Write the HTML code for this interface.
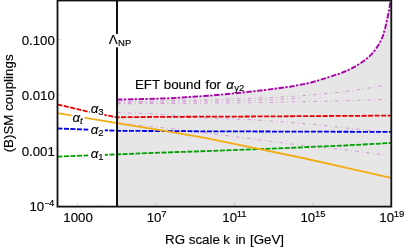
<!DOCTYPE html>
<html>
<head>
<meta charset="utf-8">
<style>
html,body{margin:0;padding:0;background:#fff;}
body{width:405px;height:249px;overflow:hidden;}
svg{display:block;position:absolute;left:0;top:0;}
text{font-family:"Liberation Sans",sans-serif;fill:#000;stroke:#000;stroke-width:0.15px;}
#txt{filter:grayscale(1);}
.t{font-size:13.33px;}
.s{font-size:9.5px;}
.i{font-style:italic;}
.k{font-size:13.25px;}
</style>
</head>
<body>
<svg width="405" height="249" viewBox="0 0 405 249">
<rect x="0" y="0" width="405" height="249" fill="#ffffff"/>

<!-- gray excluded region under EFT bound -->
<path id="fill" fill="#e6e6e6" stroke="none" d="M117,206.5 L117,99.6 L145,99 L172,98.2 L210,95.6 L240,92.8 L265,90 L290,86.7 L310,82.9 L325,78.4 L340,73.5 L347.4,70.6 L354.6,66.8 L359.9,63.6 L365,60 L369.4,56.4 L372.4,53.3 L375.5,49.5 L378.6,44.8 L381,40.3 L382.9,36.1 L385.3,27.4 L387.3,18.7 L389.1,10 L390.3,2.5 L390.7,0.5 L391.3,0.5 L391.3,206.5 Z"/>

<!-- thin light purple trajectories -->
<g fill="none" stroke="#bb33bb" stroke-opacity="0.7" stroke-width="0.6" stroke-dasharray="3.7 3.2 0.8 3.2">
<path d="M117,102.1 L165,100.8 L205,99.8 L240,98.7 L275,97.4 L300,95.9 L335,92.8 L360,89.5 L388,84.8"/>
<path d="M117,103 L165,102.2 L225,101 L275,99.6 L300,98.4"/>
<path d="M117,103.9 L165,103.5 L225,103 L275,102.3 L335,101 L388,99.3"/>
<path d="M117,112.4 L160,114.3 L205,117.9 L255,119.9 L305,123.6 L345,127.9 L388,132"/>
<path d="M117,123 L165,128 L205,132.8 L255,139.3 L295,144.5 L345,149.8 L388,155.2"/>
</g>

<!-- SM couplings -->
<g fill="none" stroke-width="1.8">
<path stroke="#e60000" stroke-dasharray="5 1.5" d="M57.5,104.4 L88,111.6 L117,117.3 L155,116.9 L250,116.5 L391,115.6"/>
<path stroke="#0000e6" stroke-dasharray="5 1.5" d="M57.5,128.5 L117,130.8 L200,131.3 L391,131.9"/>
<path stroke="#00a000" stroke-dasharray="5 1.5" d="M57.5,156.6 L117,154.4 L155,152.9 L255,149.3 L340,145.7 L391,143"/>
<path stroke="#f2ac12" d="M57.5,113.1 L117,123.1 L160,130.1 L205,137.8 L255,148.1 L305,158.5 L350,168.6 L391,177.9"/>
<!-- EFT bound -->
<path stroke="#aa00aa" stroke-width="1.9" stroke-dasharray="5.5 1.4 2.3 1.6" d="M117,99.6 L145,99 L172,98.2 L210,95.6 L240,92.8 L265,90 L290,86.7 L310,82.9 L325,78.4 L340,73.5 L347.4,70.6 L354.6,66.8 L359.9,63.6 L365,60 L369.4,56.4 L372.4,53.3 L375.5,49.5 L378.6,44.8 L381,40.3 L382.9,36.1 L385.3,27.4 L387.3,18.7 L389.1,10 L390.3,2.5 L390.7,0.5"/>
</g>

<!-- Lambda_NP vertical line -->
<line x1="117" y1="0" x2="117" y2="206.5" stroke="#111" stroke-width="2"/>

<!-- ticks (faint) -->
<g stroke="#000" stroke-width="1">
<line x1="97.2" y1="205.6" x2="97.2" y2="203.8" stroke-opacity="0.06"/>
<line x1="136.5" y1="205.6" x2="136.5" y2="203.8" stroke-opacity="0.06"/>
<line x1="175.7" y1="205.6" x2="175.7" y2="203.8" stroke-opacity="0.06"/>
<line x1="195.3" y1="205.6" x2="195.3" y2="203.8" stroke-opacity="0.06"/>
<line x1="214.9" y1="205.6" x2="214.9" y2="203.8" stroke-opacity="0.06"/>
<line x1="254.2" y1="205.6" x2="254.2" y2="203.8" stroke-opacity="0.06"/>
<line x1="273.8" y1="205.6" x2="273.8" y2="203.8" stroke-opacity="0.06"/>
<line x1="293.4" y1="205.6" x2="293.4" y2="203.8" stroke-opacity="0.06"/>
<line x1="332.7" y1="205.6" x2="332.7" y2="203.8" stroke-opacity="0.06"/>
<line x1="352.3" y1="205.6" x2="352.3" y2="203.8" stroke-opacity="0.06"/>
<line x1="371.9" y1="205.6" x2="371.9" y2="203.8" stroke-opacity="0.06"/>
<line x1="77.6" y1="205.6" x2="77.6" y2="202.7" stroke-opacity="0.13"/>
<line x1="156.1" y1="205.6" x2="156.1" y2="202.7" stroke-opacity="0.13"/>
<line x1="234.6" y1="205.6" x2="234.6" y2="202.7" stroke-opacity="0.13"/>
<line x1="313.0" y1="205.6" x2="313.0" y2="202.7" stroke-opacity="0.13"/>
<line x1="58.4" y1="39.5" x2="61.2" y2="39.5" stroke-opacity="0.13"/>
<line x1="58.4" y1="95.2" x2="61.2" y2="95.2" stroke-opacity="0.13"/>
<line x1="58.4" y1="150.8" x2="61.2" y2="150.8" stroke-opacity="0.13"/>
</g>

<!-- frame -->
<rect x="57.5" y="0.5" width="333.8" height="206.1" fill="none" stroke="#111" stroke-width="1.8"/>

<!-- white label backgrounds -->
<g fill="#ffffff">
<rect x="108" y="33.9" width="24" height="13.4"/>
<rect x="89.8" y="103" width="14.5" height="13"/>
<rect x="71.5" y="112" width="13" height="13"/>
<rect x="88.6" y="124" width="16.2" height="13"/>
<rect x="88.4" y="148.5" width="16.4" height="12.5"/>
</g>

<g id="txt">
<!-- labels -->
<text class="t" x="108.8" y="44.3">Λ<tspan class="s" dy="2.1" dx="0.4">NP</tspan></text>
<text class="t" x="134.9" y="89.2">EFT <tspan dx="0.2">bound</tspan> <tspan dx="1.0">for</tspan> <tspan class="i" dx="1.4">α</tspan><tspan class="s" dy="2.1" dx="0.35">y2</tspan></text>
<text class="t i" x="90.7" y="112.5">α<tspan class="s" style="font-style:normal" dy="2.5">3</tspan></text>
<text class="t i" x="72.5" y="121.7">α<tspan class="s" dy="2.5">t</tspan></text>
<text class="t i" x="90.7" y="133.5">α<tspan class="s" style="font-style:normal" dy="2.5">2</tspan></text>
<text class="t i" x="90.7" y="157.7">α<tspan class="s" style="font-style:normal" dy="2.5">1</tspan></text>

<!-- y tick labels -->
<g text-anchor="end">
<text class="k" x="54.8" y="44.6">0.100</text>
<text class="k" x="54.8" y="99.9">0.010</text>
<text class="k" x="54.8" y="155.8">0.001</text>
</g>
<text class="k" x="29.5" y="211.1">10<tspan dy="-5.4" dx="0.4" style="font-size:8px">−</tspan><tspan class="s" dx="-0.3">4</tspan></text>

<!-- x tick labels -->
<text class="k" x="78.1" y="222.4" text-anchor="middle">1000</text>
<text class="k" x="146.7" y="222.4">10<tspan class="s" dy="-5.3" dx="-0.3">7</tspan></text>
<text class="k" x="222.3" y="222.4">10<tspan class="s" dy="-5.3" dx="-0.3">11</tspan></text>
<text class="k" x="300.5" y="222.4">10<tspan class="s" dy="-5.3" dx="-0.3">15</tspan></text>
<text class="k" x="379.3" y="222.4">10<tspan class="s" dy="-5.3" dx="-0.3">19</tspan></text>

<!-- axis titles -->
<text class="t" y="243.9"><tspan x="165.1">RG scale </tspan><tspan x="223.2">k </tspan><tspan x="235.4">in </tspan><tspan x="250.0">[GeV]</tspan></text>
<text style="font-size:13.35px" transform="translate(13.4,103.4) rotate(-90)" text-anchor="middle">(B)SM couplings</text>
</g>
</svg>
</body>
</html>
